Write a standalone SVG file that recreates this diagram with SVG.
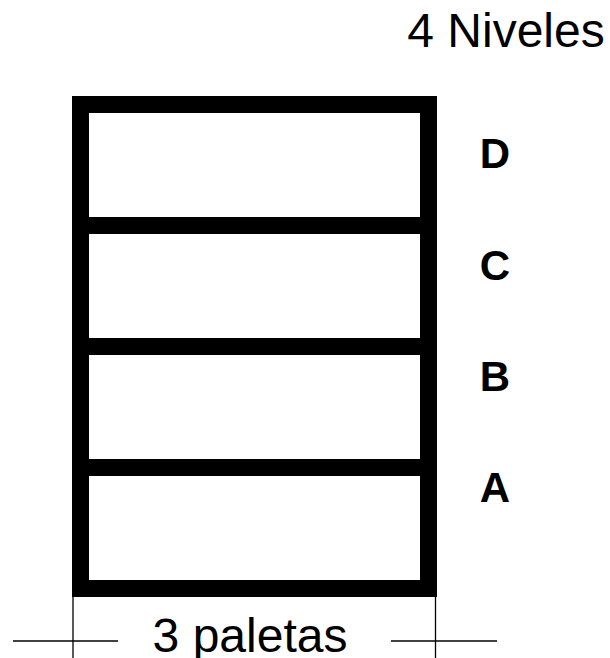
<svg xmlns="http://www.w3.org/2000/svg" width="610" height="658" viewBox="0 0 610 658">
  <style>
    .frame { stroke: #000; stroke-width: 17; fill: none; stroke-linecap: square; }
    .thin { stroke: #000; stroke-width: 1.3; fill: none; }
    .label { font-family: "Liberation Sans", Arial, sans-serif; fill: #000; }
    .level { font-family: "Liberation Sans", Arial, sans-serif; font-weight: bold; font-size: 42px; fill: #000; text-anchor: middle; }
  </style>
  <rect width="610" height="658" fill="#fff"/>

  <text class="label" x="506" y="47" font-size="48" text-anchor="middle">4 Niveles</text>

  <!-- rack with four levels -->
  <g id="rack">
    <rect class="frame" x="80.5" y="104.5" width="348" height="484"/>
    <line class="frame" x1="80.5" y1="225.5" x2="428.5" y2="225.5"/>
    <line class="frame" x1="80.5" y1="346.5" x2="428.5" y2="346.5"/>
    <line class="frame" x1="80.5" y1="467.5" x2="428.5" y2="467.5"/>
  </g>

  <g id="level-D"><text class="level" x="495" y="168">D</text></g>
  <g id="level-C"><text class="level" x="495" y="280">C</text></g>
  <g id="level-B"><text class="level" x="495" y="391">B</text></g>
  <g id="level-A"><text class="level" x="495" y="502">A</text></g>

  <!-- width dimension -->
  <g id="dimension">
    <line class="thin" x1="73" y1="597" x2="73" y2="658"/>
    <line class="thin" x1="435.5" y1="597" x2="435.5" y2="658"/>
    <line class="thin" x1="13" y1="641" x2="118" y2="641"/>
    <line class="thin" x1="391" y1="641" x2="497" y2="641"/>
    <text class="label" x="250" y="652" font-size="48" text-anchor="middle">3 paletas</text>
  </g>
</svg>
